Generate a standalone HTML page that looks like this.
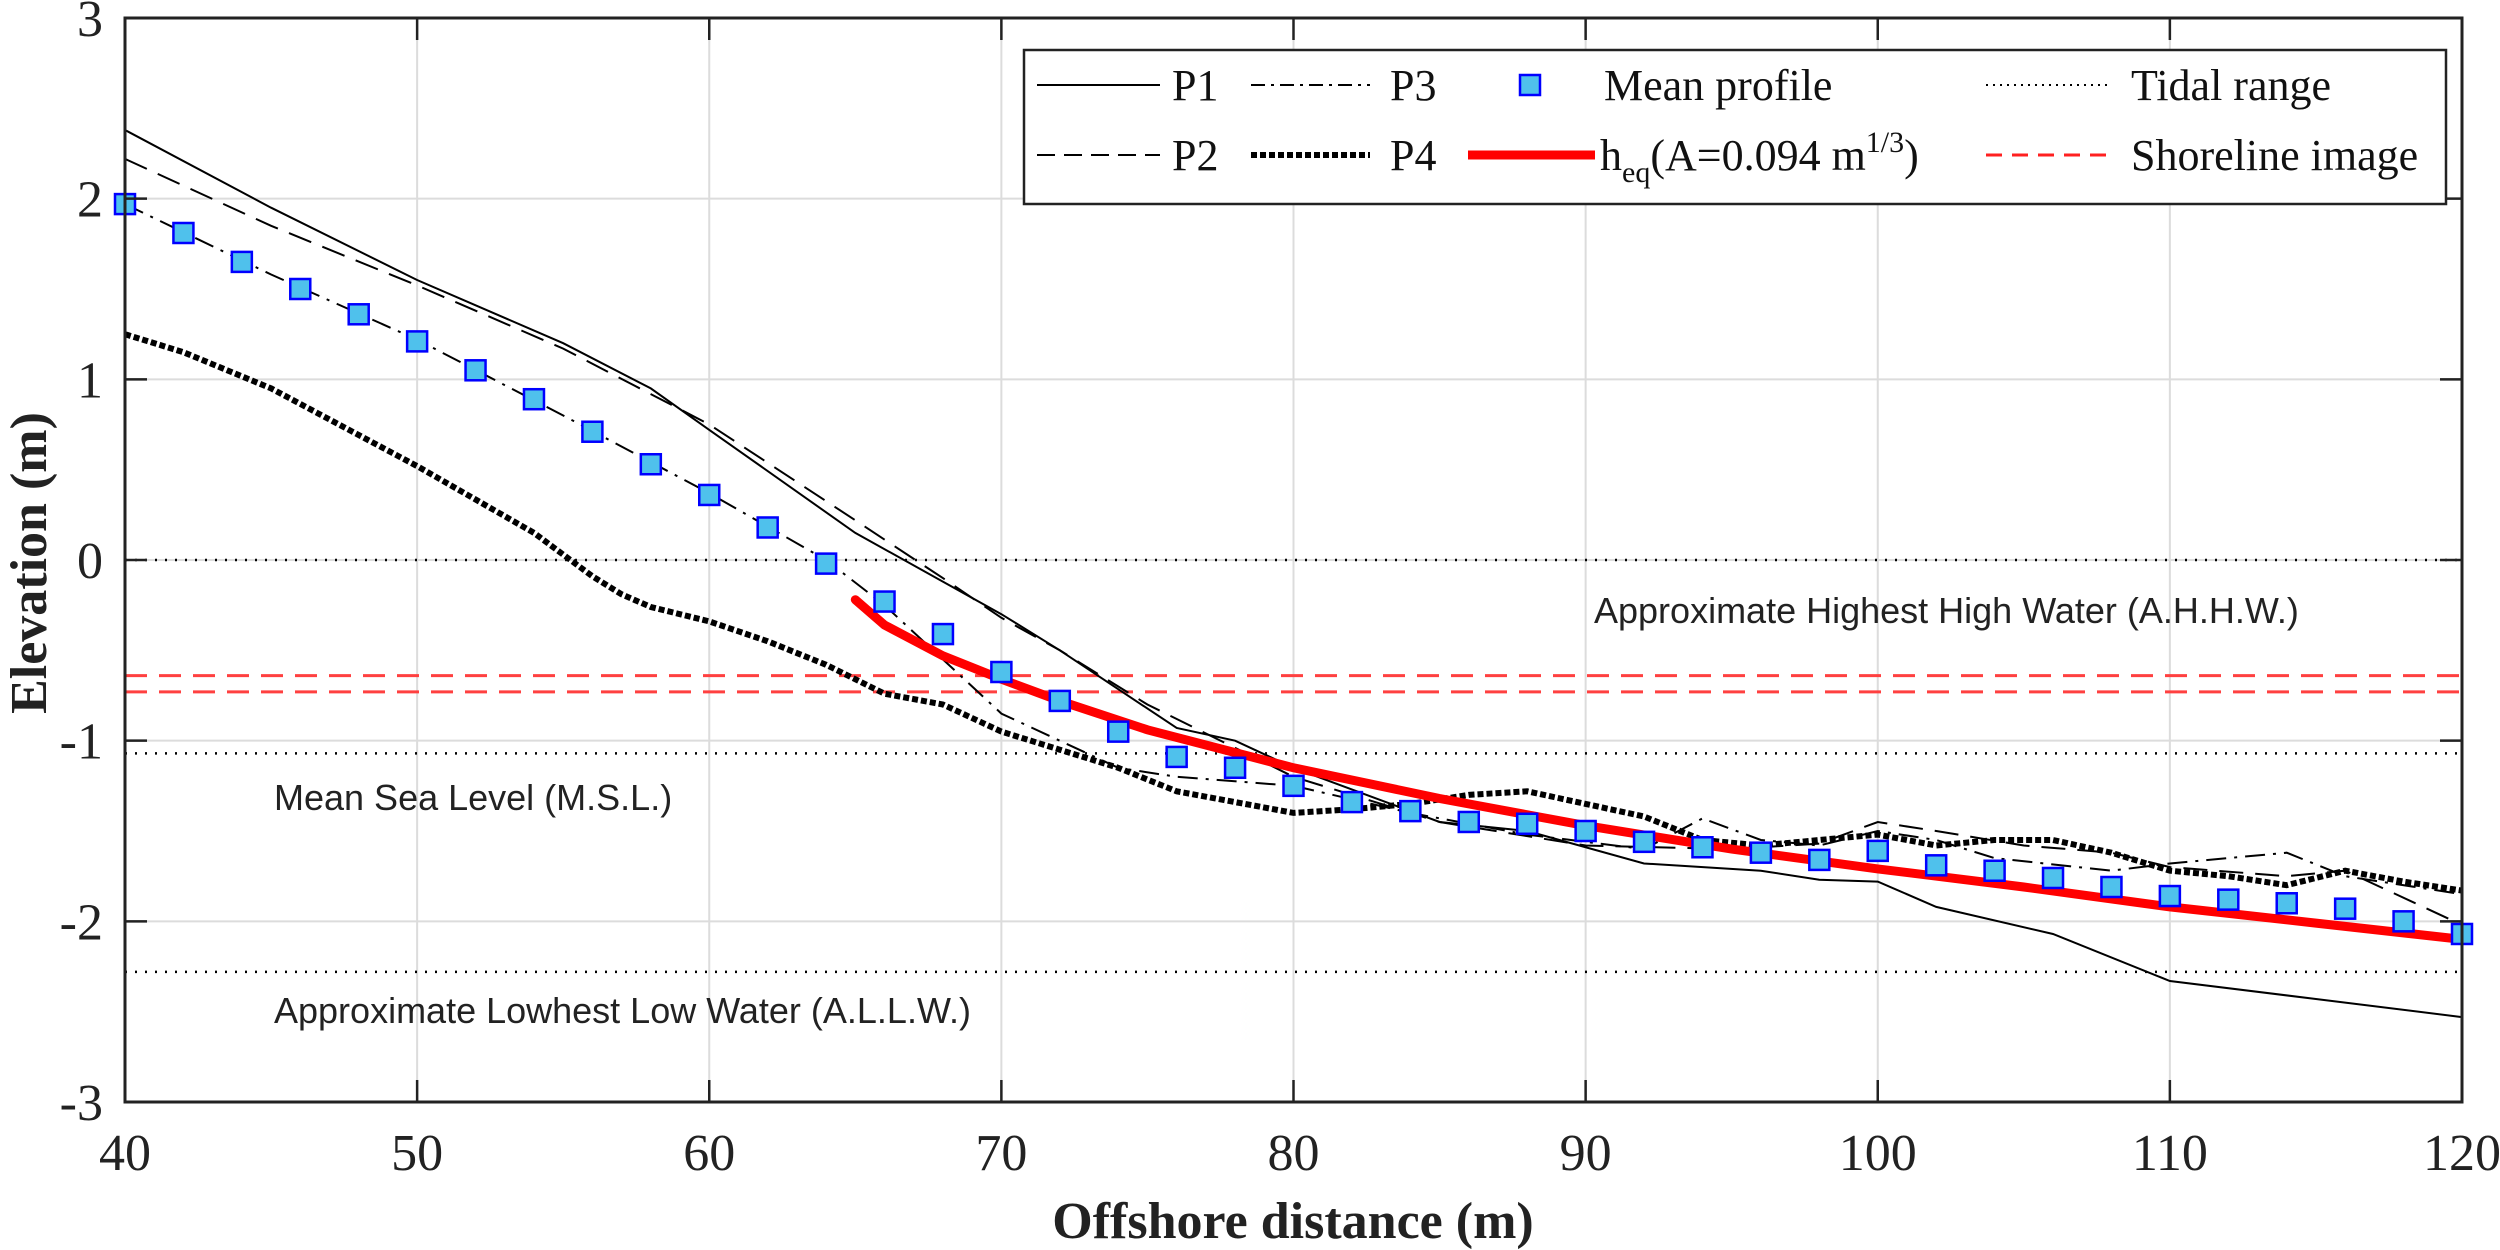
<!DOCTYPE html>
<html><head><meta charset="utf-8"><style>
html,body{margin:0;padding:0;background:#fff;}
svg{display:block;}
</style></head><body>
<svg id="chart" width="2500" height="1250" xmlns="http://www.w3.org/2000/svg"></svg>
<script>
const xTicks=[40,50,60,70,80,90,100,110,120];
const yTicks=[-3,-2,-1,0,1,2,3];
const meanX=[40,42,44,46,48,50,52,54,56,58,60,62,64,66,68,70,72,74,76,78,80,82,84,86,88,90,92,94,96,98,100,102,104,106,108,110,112,114,116,118,120];
const meanY=[1.97,1.81,1.65,1.50,1.36,1.21,1.05,0.89,0.71,0.53,0.36,0.18,-0.02,-0.23,-0.41,-0.62,-0.78,-0.95,-1.09,-1.15,-1.25,-1.34,-1.39,-1.45,-1.46,-1.50,-1.56,-1.59,-1.62,-1.66,-1.61,-1.69,-1.72,-1.76,-1.81,-1.86,-1.88,-1.90,-1.93,-2.00,-2.07];
const p1X=[40,45,50,55,58,60,65,70,72,76,78,80,85,88,92,96,98,100,102,106,110,115,120];
const p1Y=[2.38,1.95,1.55,1.2,0.95,0.72,0.15,-0.3,-0.5,-0.93,-1.0,-1.15,-1.45,-1.5,-1.68,-1.72,-1.77,-1.78,-1.92,-2.07,-2.33,-2.43,-2.53];
const p2X=[40,45,50,55,60,65,68,70,72,75,80,85,90,95,98,100,102,105,108,110,114,116,120];
const p2Y=[2.22,1.85,1.52,1.17,0.75,0.22,-0.1,-0.32,-0.5,-0.8,-1.2,-1.45,-1.58,-1.6,-1.57,-1.45,-1.5,-1.58,-1.62,-1.7,-1.75,-1.72,-2.02];
const p3X=[40,45,50,55,60,64,66,68,70,72,74,76,80,84,88,92,94,96,98,100,102,104,108,110,114,116,120];
const p3Y=[1.97,1.58,1.22,0.8,0.37,0.0,-0.25,-0.55,-0.85,-1.0,-1.15,-1.2,-1.25,-1.4,-1.52,-1.6,-1.43,-1.55,-1.58,-1.5,-1.55,-1.65,-1.72,-1.68,-1.62,-1.75,-1.85];
const p4X=[40,42,45,50,54,55,56,57,58,60,62,64,66,68,70,72,74,76,78,80,82,84,86,88,90,92,94,96,98,100,102,104,106,108,110,112,114,116,118,120];
const p4Y=[1.25,1.15,0.95,0.52,0.15,0.03,-0.09,-0.19,-0.26,-0.34,-0.45,-0.58,-0.74,-0.8,-0.95,-1.05,-1.15,-1.28,-1.34,-1.4,-1.38,-1.35,-1.3,-1.28,-1.35,-1.42,-1.55,-1.58,-1.55,-1.52,-1.58,-1.55,-1.55,-1.62,-1.72,-1.75,-1.8,-1.72,-1.78,-1.83];
const heqX=[65,66,68,70,72,75,80,85,90,95,100,105,110,115,120];
const heqY=[-0.22,-0.36,-0.53,-0.66,-0.78,-0.94,-1.15,-1.32,-1.47,-1.6,-1.71,-1.81,-1.92,-2.01,-2.1];
const tidalLevels=[0,-1.07,-2.28];
const shoreLevels=[-0.64,-0.73];

const L=125,R=2462,T=18,B=1102;
const xMin=40,xMax=120,yMin=-3,yMax=3;
const sx=v=>L+(v-xMin)/(xMax-xMin)*(R-L);
const sy=v=>B-(v-yMin)/(yMax-yMin)*(B-T);
const NS='http://www.w3.org/2000/svg';
const svg=document.getElementById('chart');
function mk(tag,attrs,parent){const e=document.createElementNS(NS,tag);for(const k in attrs)e.setAttribute(k,attrs[k]);(parent||svg).appendChild(e);return e;}
function txt(str,attrs,parent){const e=mk('text',attrs,parent);e.textContent=str;return e;}
const serif='"Liberation Serif", serif', sans='"Liberation Sans", sans-serif';

const grid=mk('g',{});


xTicks.forEach(v=>mk('line',{x1:sx(v),x2:sx(v),y1:T,y2:B,stroke:'#dcdcdc','stroke-width':2},grid));
yTicks.forEach(v=>mk('line',{x1:L,x2:R,y1:sy(v),y2:sy(v),stroke:'#dcdcdc','stroke-width':2},grid));

tidalLevels.forEach(v=>{const l=mk('line',{x1:L,x2:R,y1:sy(v),y2:sy(v),stroke:'#000','stroke-width':2.5,'stroke-dasharray':'2,8'});

});
shoreLevels.forEach(v=>{const l=mk('line',{x1:L,x2:R,y1:sy(v),y2:sy(v),stroke:'#ff4040','stroke-width':3,'stroke-dasharray':'22,12'});

});

function path(xs,ys,style,name){const d=xs.map((x,i)=>(i?'L':'M')+sx(x).toFixed(1)+','+sy(ys[i]).toFixed(1)).join(' ');
const p=mk('path',Object.assign({d:d,fill:'none'},style));

return p;}
path(p1X,p1Y,{stroke:'#000','stroke-width':2},'series-p1');
path(p2X,p2Y,{stroke:'#000','stroke-width':2,'stroke-dasharray':'24,12'},'series-p2');
path(p3X,p3Y,{stroke:'#000','stroke-width':2,'stroke-dasharray':'20,8,3,8'},'series-p3');
path(p4X,p4Y,{stroke:'#000','stroke-width':6,'stroke-dasharray':'6,3'},'series-p4');
path(heqX,heqY,{stroke:'#ff0000','stroke-width':9,'stroke-linecap':'round'},'series-heq');

const mg=mk('g',{});


meanX.forEach((x,i)=>{const r=mk('rect',{x:sx(x)-10,y:sy(meanY[i])-10,width:20,height:20,fill:'#4fc1ec',stroke:'#0000ff','stroke-width':2.5},mg);

});

const box=mk('rect',{x:L,y:T,width:R-L,height:B-T,fill:'none',stroke:'#222','stroke-width':3});


xTicks.forEach(v=>{mk('line',{x1:sx(v),x2:sx(v),y1:B,y2:B-22,stroke:'#222','stroke-width':2.5});mk('line',{x1:sx(v),x2:sx(v),y1:T,y2:T+22,stroke:'#222','stroke-width':2.5});
const t=txt(String(v),{x:sx(v),y:1170,'font-family':serif,'font-size':52,'text-anchor':'middle',fill:'#222'});

});
yTicks.forEach(v=>{mk('line',{x1:L,x2:L+22,y1:sy(v),y2:sy(v),stroke:'#222','stroke-width':2.5});mk('line',{x1:R,x2:R-22,y1:sy(v),y2:sy(v),stroke:'#222','stroke-width':2.5});
const t=txt(String(v),{x:103,y:sy(v)+18,'font-family':serif,'font-size':52,'text-anchor':'end',fill:'#222'});

});

const xt=txt('Offshore distance (m)',{x:1293,y:1238,'font-family':serif,'font-size':52,'font-weight':'bold','text-anchor':'middle',fill:'#222'});


const yt=txt('Elevation (m)',{x:0,y:0,'font-family':serif,'font-size':52,'font-weight':'bold','text-anchor':'middle',fill:'#222',transform:'translate(46,563) rotate(-90)'});



const a1=txt('Approximate Highest High Water (A.H.H.W.)',{x:1594,y:623,'font-family':sans,'font-size':36,fill:'#222'});


const a2=txt('Mean Sea Level (M.S.L.)',{x:274,y:810,'font-family':sans,'font-size':36,fill:'#222'});


const a3=txt('Approximate Lowhest Low Water (A.L.L.W.)',{x:274,y:1023,'font-family':sans,'font-size':36,fill:'#222'});



const lg=mk('g',{});


mk('rect',{x:1024,y:50,width:1422,height:154,fill:'#fff',stroke:'#222','stroke-width':2.5},lg);
function entry(x1,x2,y,style,label,tx,name){const g=mk('g',{},lg);


if(style)mk('line',Object.assign({x1:x1,x2:x2,y1:y,y2:y},style),g);
txt(label,{x:tx,y:y+15,'font-family':serif,'font-size':44,fill:'#111'},g);return g;}
const r1=85,r2=155;
entry(1037,1160,r1,{stroke:'#000','stroke-width':2},'P1',1172,'legend-p1');
entry(1251,1370,r1,{stroke:'#000','stroke-width':2,'stroke-dasharray':'14,6,3,6'},'P3',1390,'legend-p3');
const gm=entry(0,0,r1,null,'Mean profile',1604,'legend-mean-profile');
mk('rect',{x:1520,y:r1-10,width:20,height:20,fill:'#4fc1ec',stroke:'#0000ff','stroke-width':2.5},gm);
entry(1986,2111,r1,{stroke:'#000','stroke-width':2,'stroke-dasharray':'2,5'},'Tidal range',2131,'legend-tidal-range');
entry(1037,1160,r2,{stroke:'#000','stroke-width':2,'stroke-dasharray':'18,9'},'P2',1172,'legend-p2');
entry(1251,1370,r2,{stroke:'#000','stroke-width':6,'stroke-dasharray':'6,3'},'P4',1390,'legend-p4');
const gh=mk('g',{},lg);


mk('line',{x1:1468,x2:1595,y1:r2,y2:r2,stroke:'#ff0000','stroke-width':9},gh);
const ht=mk('text',{x:1600,y:r2+15,'font-family':serif,'font-size':44,fill:'#111'},gh);
ht.innerHTML='h<tspan font-size="30" dy="12">eq</tspan><tspan dy="-12">(A=0.094 m</tspan><tspan font-size="30" dy="-18">1/3</tspan><tspan dy="18">)</tspan>';
entry(1986,2108,r2,{stroke:'#ff2020','stroke-width':3,'stroke-dasharray':'16,10'},'Shoreline image',2131,'legend-shoreline-image');
</script>
</body></html>
